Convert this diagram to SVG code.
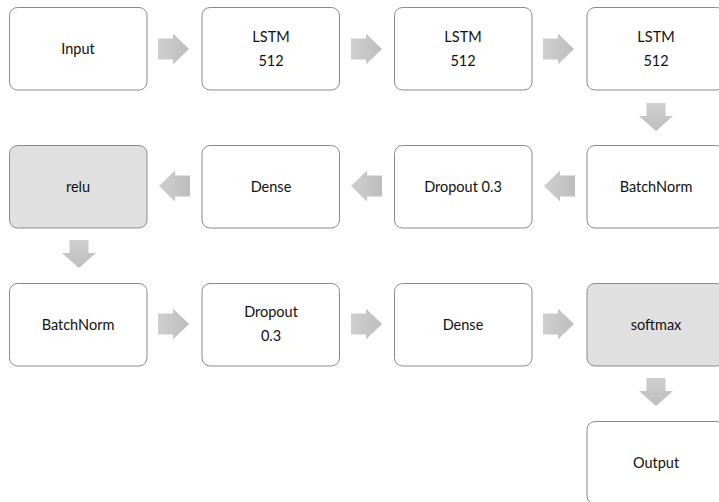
<svg xmlns="http://www.w3.org/2000/svg" width="719" height="502" viewBox="0 0 719 502">
<style>
.box{fill:#ffffff;stroke:#8a8a8a;stroke-width:1}
.act{fill:#e0e0e0;stroke:#8a8a8a;stroke-width:1}
.lbl{font-family:Lato,"Open Sans","Liberation Sans",sans-serif;font-size:14.5px;fill:#111;text-anchor:middle;dominant-baseline:central}
.arr{fill:url(#g)}
.darr{fill:url(#gv)}
</style>
<defs>
<linearGradient id="g" x1="0" y1="0" x2="1" y2="0"><stop offset="0" stop-color="#cfcfcf"/><stop offset="1" stop-color="#bdbdbd"/></linearGradient>
<linearGradient id="gv" x1="0" y1="0" x2="0" y2="1"><stop offset="0" stop-color="#cfcfcf"/><stop offset="1" stop-color="#bdbdbd"/></linearGradient>
<path id="ra" d="M0,-10.5 H15 V-15.5 L31,0 L15,15.5 V10.5 H0 Z"/>
<path id="la" d="M0,-10.5 H-15 V-15.5 L-31,0 L-15,15.5 V10.5 H0 Z"/>
<path id="da" d="M-9.5,0 H9.5 V13 H17 L0,28 L-17,13 H-9.5 Z"/>
</defs>
<g id="connectors">
<use href="#ra" class="arr" x="158" y="49"/>
<use href="#ra" class="arr" x="351" y="49"/>
<use href="#ra" class="arr" x="543" y="49"/>
<use href="#da" class="darr" x="656" y="103"/>
<use href="#la" class="arr" x="575" y="186"/>
<use href="#la" class="arr" x="382" y="186"/>
<use href="#la" class="arr" x="190" y="186"/>
<use href="#da" class="darr" x="79" y="240"/>
<use href="#ra" class="arr" x="158" y="324"/>
<use href="#ra" class="arr" x="351" y="324"/>
<use href="#ra" class="arr" x="543" y="324"/>
<use href="#da" class="darr" x="656" y="378"/>
</g>
<g id="input"><rect class="box" x="9.5" y="7.5" width="137.5" height="82.5" rx="8"/><text class="lbl" x="78" y="48">Input</text></g>
<g id="lstm1"><rect class="box" x="202" y="7.5" width="137.5" height="82.5" rx="8"/><text class="lbl" x="271" y="36">LSTM</text><text class="lbl" x="271" y="60">512</text></g>
<g id="lstm2"><rect class="box" x="394.5" y="7.5" width="137.5" height="82.5" rx="8"/><text class="lbl" x="463" y="36">LSTM</text><text class="lbl" x="463" y="60">512</text></g>
<g id="lstm3"><rect class="box" x="587" y="7.5" width="137.5" height="82.5" rx="8"/><text class="lbl" x="656" y="36">LSTM</text><text class="lbl" x="656" y="60">512</text></g>
<g id="batchnorm1"><rect class="box" x="587" y="145.5" width="137.5" height="82.5" rx="8"/><text class="lbl" x="656" y="186">BatchNorm</text></g>
<g id="dropout1"><rect class="box" x="394.5" y="145.5" width="137.5" height="82.5" rx="8"/><text class="lbl" x="463" y="186">Dropout 0.3</text></g>
<g id="dense1"><rect class="box" x="202" y="145.5" width="137.5" height="82.5" rx="8"/><text class="lbl" x="271" y="186">Dense</text></g>
<g id="relu"><rect class="act" x="9.5" y="145.5" width="137.5" height="82.5" rx="8"/><text class="lbl" x="78" y="186">relu</text></g>
<g id="batchnorm2"><rect class="box" x="9.5" y="283.5" width="137.5" height="82.5" rx="8"/><text class="lbl" x="78" y="324">BatchNorm</text></g>
<g id="dropout2"><rect class="box" x="202" y="283.5" width="137.5" height="82.5" rx="8"/><text class="lbl" x="271" y="311">Dropout</text><text class="lbl" x="271" y="335">0.3</text></g>
<g id="dense2"><rect class="box" x="394.5" y="283.5" width="137.5" height="82.5" rx="8"/><text class="lbl" x="463" y="324">Dense</text></g>
<g id="softmax"><rect class="act" x="587" y="283.5" width="137.5" height="82.5" rx="8"/><text class="lbl" x="656" y="324">softmax</text></g>
<g id="output"><rect class="box" x="587" y="421.5" width="137.5" height="82.5" rx="8"/><text class="lbl" x="656" y="462">Output</text></g>
</svg>
